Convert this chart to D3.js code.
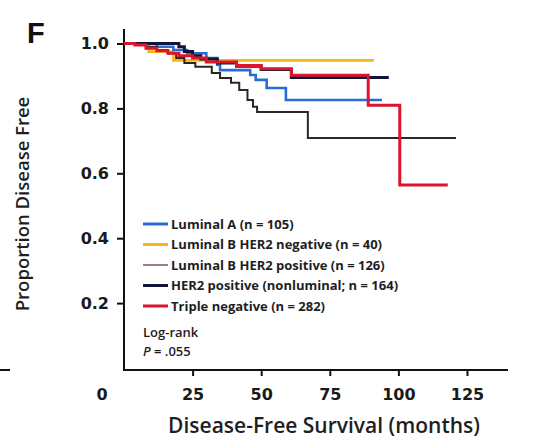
<!DOCTYPE html>
<html>
<head>
<meta charset="utf-8">
<script src="https://cdn.jsdelivr.net/npm/d3@7"></script>
<style>
  html, body { margin: 0; padding: 0; background: #fff; }
  svg { display: block; }
</style>
</head>
<body>
<svg id="chart" width="540" height="445"></svg>
<script>
// Kaplan-Meier step data: event times (months) and proportion disease free
const seriesNames = [
  "Luminal A (n = 105)",
  "Luminal B HER2 negative (n = 40)",
  "Luminal B HER2 positive (n = 126)",
  "HER2 positive (nonluminal; n = 164)",
  "Triple negative (n = 282)"
];
const lumA_t = [0, 12, 18, 23, 30, 34, 35, 46, 48, 52, 59, 94];
const lumA_s = [1, 0.99, 0.98, 0.97, 0.955, 0.935, 0.918, 0.903, 0.888, 0.863, 0.826, 0.826];
const lumBneg_t = [0, 9, 18, 91];
const lumBneg_s = [1, 0.975, 0.948, 0.948];
const lumBpos_t = [0, 8, 12, 16, 19, 22, 26, 32, 35, 39, 42, 45, 47, 48.5, 67, 121];
const lumBpos_s = [1, 0.99, 0.98, 0.97, 0.955, 0.94, 0.928, 0.909, 0.894, 0.879, 0.857, 0.826, 0.805, 0.789, 0.709, 0.709];
const her2_t = [0, 20, 22, 25, 28, 34, 41, 50, 61, 96.5];
const her2_s = [1, 0.99, 0.975, 0.962, 0.952, 0.94, 0.93, 0.92, 0.895, 0.895];
const tneg_t = [0, 4, 8, 12, 16, 20, 25, 30, 41, 50, 61, 89, 100.5, 118];
const tneg_s = [1, 0.995, 0.985, 0.978, 0.97, 0.962, 0.955, 0.943, 0.932, 0.922, 0.902, 0.81, 0.564, 0.564];

const xTicks = [25, 50, 75, 100, 125];
const yTicks = [0.2, 0.4, 0.6, 0.8, 1.0];

const colors = ["#2a6cd6", "#f6b810", "#2e2626", "#10163a", "#dc142e"];
const legendColors = ["#2a6cd6", "#f6b810", "#7a6262", "#10163a", "#dc142e"];
const widths = [2.6, 2.6, 2, 3, 3];

const svg = d3.select("#chart");

const x = d3.scaleLinear().domain([0, 125]).range([124, 467]);
const y = d3.scaleLinear().domain([0, 1]).range([368, 43.5]);

// panel letter
svg.append("text").attr("x", 27).attr("y", 43)
  .attr("font-family", "Liberation Sans, Arial, sans-serif")
  .attr("font-weight", "bold").attr("font-size", 29).attr("fill", "#111")
  .text("F");

// short rule at the left edge
svg.append("line").attr("x1", 0).attr("x2", 10).attr("y1", 370).attr("y2", 370)
  .attr("stroke", "#111").attr("stroke-width", 2);

// y axis
const yAxis = d3.axisLeft(y).tickValues(yTicks).tickFormat(d3.format(".1f"))
  .tickSize(7).tickPadding(8);
const gy = svg.append("g").attr("transform", "translate(124,0)").call(yAxis);
gy.select(".domain").remove();
gy.append("line").attr("x1", 0).attr("x2", 0).attr("y1", 29).attr("y2", 371)
  .attr("stroke", "#111").attr("stroke-width", 2);
gy.selectAll(".tick line").attr("stroke", "#111").attr("stroke-width", 2);
gy.selectAll(".tick text")
  .attr("font-family", "DejaVu Sans, sans-serif").attr("font-weight", "bold")
  .attr("font-size", 16).attr("fill", "#1a1a1a");

// x axis
const xAxis = d3.axisBottom(x).tickValues(xTicks).tickSize(6).tickPadding(13);
const gx = svg.append("g").attr("transform", "translate(0,370)").call(xAxis);
gx.select(".domain").remove();
gx.append("line").attr("x1", 123).attr("x2", 508).attr("y1", 0).attr("y2", 0)
  .attr("stroke", "#111").attr("stroke-width", 2);
gx.selectAll(".tick line").attr("stroke", "#111").attr("stroke-width", 2);
gx.selectAll(".tick text")
  .attr("font-family", "DejaVu Sans, sans-serif").attr("font-weight", "bold")
  .attr("font-size", 16).attr("fill", "#1a1a1a");
// origin label sits left of the axis corner
gx.append("text").attr("x", x(0) - 22).attr("y", 30)
  .attr("text-anchor", "middle")
  .attr("font-family", "DejaVu Sans, sans-serif").attr("font-weight", "bold")
  .attr("font-size", 16).attr("fill", "#1a1a1a").text("0");

// axis titles
svg.append("text").attr("x", 324).attr("y", 433).attr("text-anchor", "middle")
  .attr("font-family", "Open Sans, sans-serif").attr("font-weight", 600)
  .attr("font-size", 21).attr("fill", "#1e1e1e")
  .text("Disease-Free Survival (months)");
svg.append("text").attr("transform", "translate(29,204) rotate(-90)")
  .attr("text-anchor", "middle")
  .attr("font-family", "Open Sans, sans-serif").attr("font-weight", 600)
  .attr("font-size", 18.5).attr("fill", "#1e1e1e")
  .text("Proportion Disease Free");

// survival curves
const curves = [
  [lumA_t, lumA_s], [lumBneg_t, lumBneg_s], [lumBpos_t, lumBpos_s],
  [her2_t, her2_s], [tneg_t, tneg_s]
];
const line = d3.line().x(d => x(d[0])).y(d => y(d[1])).curve(d3.curveStepAfter);
const drawOrder = [1, 0, 2, 3, 4];
drawOrder.forEach(i => {
  const [ts, ss] = curves[i];
  svg.append("path")
    .attr("d", line(ts.map((t, k) => [t, ss[k]])))
    .attr("fill", "none").attr("stroke", colors[i])
    .attr("stroke-width", widths[i]).attr("stroke-linejoin", "miter");
});

// legend
const legendY = [224, 244.5, 265, 285.5, 306];
seriesNames.forEach((name, i) => {
  svg.append("line").attr("x1", 143).attr("x2", 168)
    .attr("y1", legendY[i]).attr("y2", legendY[i])
    .attr("stroke", legendColors[i]).attr("stroke-width", i === 2 ? 1.6 : 3);
  svg.append("text").attr("x", 171).attr("y", legendY[i]).attr("dy", "0.35em")
    .attr("font-family", "Open Sans, sans-serif").attr("font-weight", 700)
    .attr("font-size", 13).attr("fill", "#1e1e1e").text(name);
});
svg.append("text").attr("x", 143).attr("y", 332).attr("dy", "0.35em")
  .attr("font-family", "Open Sans, sans-serif").attr("font-weight", 600)
  .attr("font-size", 13).attr("fill", "#1e1e1e").text("Log-rank");
const pText = svg.append("text").attr("x", 143).attr("y", 351).attr("dy", "0.35em")
  .attr("font-family", "Open Sans, sans-serif").attr("font-weight", 600)
  .attr("font-size", 13).attr("fill", "#1e1e1e");
pText.append("tspan").attr("font-style", "italic").text("P");
pText.append("tspan").text(" = .055");
</script>
</body>
</html>
